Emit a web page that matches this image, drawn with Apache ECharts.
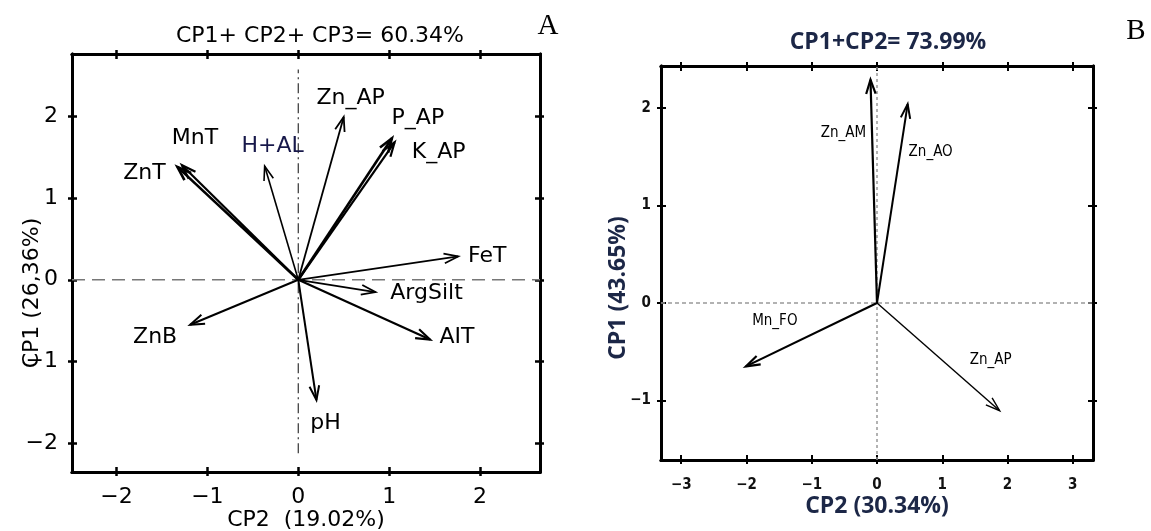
<!DOCTYPE html>
<html><head><meta charset="utf-8">
<script src="https://cdn.jsdelivr.net/npm/echarts@6/dist/echarts.min.js"></script>
<style>html,body{margin:0;padding:0;background:#fff}#c{width:1151px;height:531px}</style>
</head><body><div id="c"></div>
<script>
// ---------- Panel A data ----------
const varsA = ['ZnT', 'MnT', 'H+AL', 'Zn_AP', 'P_AP', 'K_AP', 'FeT', 'ArgSilt', 'AIT', 'pH', 'ZnB'];
const cp2A  = [-1.33, -1.28, -0.37, 0.50, 1.03, 1.06, 1.76, 0.85, 1.45, 0.20, -1.19];
const cp1A  = [ 1.38,  1.40,  1.39, 1.99, 1.73, 1.68, 0.285, -0.15, -0.73, -1.47, -0.55];
const xRangeA = [-2.49, 2.66];
const yRangeA = [-2.35, 2.76];
const ticksA = [-2, -1, 0, 1, 2];
const vLineA = [-2.12, 2.57];
const titleA = 'CP1+ CP2+ CP3= 60.34%';
const xNameA = 'CP2  (19.02%)';
const yNameA = 'CP1 (26,36%)';

// ---------- Panel B data ----------
const varsB = ['Zn_AM', 'Zn_AO', 'Mn_FO', 'Zn_AP'];
const cp2B  = [-0.10, 0.47, -2.01, 1.88];
const cp1B  = [ 2.29, 2.04, -0.65, -1.105];
const xRangeB = [-3.31, 3.31];
const yRangeB = [-1.61, 2.43];
const ticksBx = [-3, -2, -1, 0, 1, 2, 3];
const ticksBy = [-1, 0, 1, 2];
const titleB = 'CP1+CP2= 73.99%';
const xNameB = 'CP2 (30.34%)';
const yNameB = 'CP1 (43.65%)';

// ---------- styles ----------
const fontA = 'DejaVu Sans';
const fontBTitle = 'Open Sans';
const fontBSmall = "'Liberation Sans Narrow','DejaVu Sans Condensed','Roboto Condensed',sans-serif";
const navy = '#1c2747';
const styleA = {
  'ZnT':    {w: 2.6, off: [-33, 6]},
  'MnT':    {w: 2.2, off: [13, -27]},
  'H+AL':   {w: 1.6, off: [8, -20], color: '#17184a'},
  'Zn_AP':  {w: 1.8, off: [7, -19]},
  'P_AP':   {w: 2.6, off: [26, -20]},
  'K_AP':   {w: 2.2, off: [44, 10]},
  'FeT':    {w: 1.8, off: [29, 0]},
  'ArgSilt':{w: 1.8, off: [51, 1]},
  'AIT':    {w: 2.2, off: [27, -2]},
  'pH':     {w: 2.0, off: [9, 23]},
  'ZnB':    {w: 2.0, off: [-35, 13]}
};
const styleB = {
  'Zn_AM': {w: 2.2, off: [-27, 53]},
  'Zn_AO': {w: 2.0, off: [23, 48]},
  'Mn_FO': {w: 2.2, off: [29, -45]},
  'Zn_AP': {w: 1.4, off: [-9, -51]}
};

const fmt = v => v < 0 ? '\u2212' + (-v) : String(v);

function axesFor(dim, grid, range, ticks, st) {
  const sides = dim === 'x' ? ['bottom', 'top'] : ['left', 'right'];
  const out = [];
  sides.forEach((pos, si) => {
    [false, true].forEach(inside => {
      const main = si === 0 && !inside;
      out.push({
        type: 'value', gridIndex: grid, position: pos, min: range[0], max: range[1],
        axisLine: {show: true, onZero: false, lineStyle: {color: '#000', width: st.lineW}},
        axisTick: {show: true, inside: inside, length: inside ? st.tickIn : st.tickOut,
                   lineStyle: {color: '#000', width: st.tickW}, customValues: ticks},
        axisLabel: Object.assign({show: main, customValues: ticks, formatter: fmt, margin: st.labelMargin}, st.labelStyle),
        splitLine: {show: false},
        name: main ? st.name : '', nameLocation: 'middle', nameGap: st.nameGap, nameMoveOverlap: false,
        nameTextStyle: st.nameStyle, silent: true
      });
    });
  });
  return out;
}

function arrowSeries(vars, xs, ys, styles, axisIdx, head, angle, font, z) {
  return {
    type: 'custom', coordinateSystem: 'cartesian2d', xAxisIndex: axisIdx, yAxisIndex: axisIdx,
    clip: false, silent: true, z: z,
    data: vars.map((n, i) => [xs[i], ys[i]]),
    renderItem: function (params, api) {
      const name = vars[params.dataIndex];
      const st = styles[name];
      const o = api.coord([0, 0]);
      const t = api.coord([api.value(0), api.value(1)]);
      const ang = Math.atan2(t[1] - o[1], t[0] - o[0]);
      const p1 = [t[0] - head * Math.cos(ang - angle), t[1] - head * Math.sin(ang - angle)];
      const p2 = [t[0] - head * Math.cos(ang + angle), t[1] - head * Math.sin(ang + angle)];
      return {type: 'group', children: [
        {type: 'line', shape: {x1: o[0], y1: o[1], x2: t[0], y2: t[1]}, style: {stroke: '#000', lineWidth: st.w}},
        {type: 'polyline', shape: {points: [p1, t, p2]}, style: {stroke: '#000', lineWidth: st.w, fill: null}},
        {type: 'text', style: Object.assign({text: name, x: t[0] + st.off[0], y: t[1] + st.off[1],
          align: 'center', verticalAlign: 'middle', fill: st.color || '#000'}, font)}
      ]};
    }
  };
}

const stA = {lineW: 3, tickOut: 4, tickIn: 5, tickW: 2.5, labelMargin: 14,
  labelStyle: {fontFamily: fontA, fontSize: 22, color: '#000'}};
const stB = {lineW: 3, tickOut: 4, tickIn: 5, tickW: 2, labelMargin: 10,
  labelStyle: {fontFamily: fontBSmall, fontSize: 15, fontWeight: 'bold', color: '#111'}};

const xAxes = []
  .concat(axesFor('x', 0, xRangeA, ticksA, Object.assign({}, stA, {name: xNameA, nameGap: 37,
    nameStyle: {fontFamily: fontA, fontSize: 22, color: '#000'}})))
  .concat(axesFor('x', 1, xRangeB, ticksBx, Object.assign({}, stB, {labelMargin: 18, name: xNameB, nameGap: 35,
    nameStyle: {fontFamily: fontBTitle, fontSize: 23, fontWeight: 'bold', color: navy}})));
const yAxes = []
  .concat(axesFor('y', 0, yRangeA, ticksA, Object.assign({}, stA, {name: yNameA, nameGap: 29,
    nameStyle: {fontFamily: fontA, fontSize: 22, color: '#000', padding: [0, 60, 0, 0]}})))
  .concat(axesFor('y', 1, yRangeB, ticksBy, Object.assign({}, stB, {name: yNameB, nameGap: 31,
    nameStyle: {fontFamily: fontBTitle, fontSize: 23, fontWeight: 'bold', color: navy, padding: [0, 50, 0, 0]}})));

const chart = echarts.init(document.getElementById('c'), null, {renderer: 'canvas'});
chart.setOption({
  animation: false,
  backgroundColor: '#fff',
  grid: [
    {left: 72, top: 54, width: 468, height: 418, outerBoundsMode: 'none'},
    {left: 661, top: 66, width: 432, height: 394, outerBoundsMode: 'none'}
  ],
  xAxis: xAxes,
  yAxis: yAxes,
  graphic: [
    {type: 'text', x: 320, y: 36, style: {text: titleA, fontFamily: fontA, fontSize: 22, fill: '#000', align: 'center', verticalAlign: 'middle'}},
    {type: 'text', x: 548, y: 26, style: {text: 'A', fontFamily: 'Liberation Serif', fontSize: 29, fill: '#000', align: 'center', verticalAlign: 'middle'}},
    {type: 'text', x: 888, y: 42, style: {text: titleB, fontFamily: fontBTitle, fontSize: 23, fontWeight: 'bold', fill: navy, align: 'center', verticalAlign: 'middle'}},
    {type: 'text', x: 1136, y: 31, style: {text: 'B', fontFamily: 'Liberation Serif', fontSize: 29, fill: '#000', align: 'center', verticalAlign: 'middle'}}
  ],
  series: [
    {type: 'line', xAxisIndex: 0, yAxisIndex: 0, symbol: 'none', silent: true, z: 1,
     data: [[xRangeA[0], 0], [xRangeA[1], 0]], lineStyle: {color: '#777', width: 1.5, type: [13, 7]}},
    {type: 'line', xAxisIndex: 0, yAxisIndex: 0, symbol: 'none', silent: true, z: 1,
     data: [[0, vLineA[0]], [0, vLineA[1]]], lineStyle: {color: '#333', width: 1.2, type: [10, 4, 2, 4]}},
    arrowSeries(varsA, cp2A, cp1A, styleA, 0, 15, 0.33, {fontFamily: fontA, fontSize: 22}, 5),
    {type: 'line', xAxisIndex: 4, yAxisIndex: 4, symbol: 'none', silent: true, z: 1,
     data: [[xRangeB[0], 0], [xRangeB[1], 0]], lineStyle: {color: '#999', width: 1.5, type: [4, 3]}},
    {type: 'line', xAxisIndex: 4, yAxisIndex: 4, symbol: 'none', silent: true, z: 1,
     data: [[0, yRangeB[0]], [0, yRangeB[1]]], lineStyle: {color: '#999', width: 1.5, type: [3, 3]}},
    arrowSeries(varsB, cp2B, cp1B, styleB, 4, 15, 0.32, {fontFamily: fontBSmall, fontSize: 15}, 5)
  ]
});
</script>
</body></html>
